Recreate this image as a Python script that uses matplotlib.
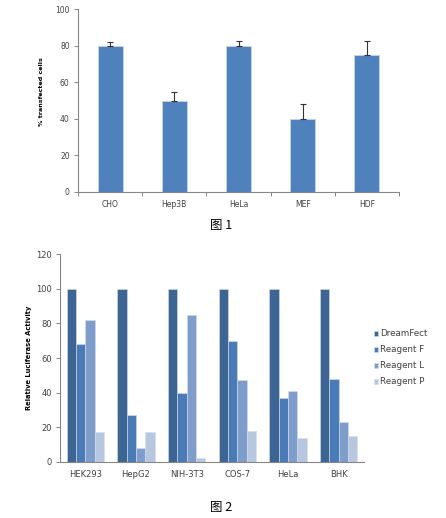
import numpy as np
import matplotlib
matplotlib.use("Agg")
import matplotlib.pyplot as plt

plt.rcParams['font.family'] = ['DejaVu Sans', 'Noto Sans CJK SC']

# figure 1 data
cells1 = ['CHO', 'Hep3B', 'HeLa', 'MEF', 'HDF']
pct_transfected = [80, 50, 80, 40, 75]
pct_err = [2, 5, 3, 8, 8]

# figure 2 data
cells2 = ['HEK293', 'HepG2', 'NIH-3T3', 'COS-7', 'HeLa', 'BHK']
reagents = ['DreamFect', 'Reagent F', 'Reagent L', 'Reagent P']
dreamfect = [100, 100, 100, 100, 100, 100]
reagent_f = [68, 27, 40, 70, 37, 48]
reagent_l = [82, 8, 85, 47, 41, 23]
reagent_p = [17, 17, 2, 18, 14, 15]

W, H = 446, 518
fig = plt.figure(figsize=(W / 100, H / 100), dpi=100)
fig.patch.set_facecolor('white')

axis_gray = '#868686'
text_gray = '#404040'


def style_axis(ax):
    for s in ['top', 'right']:
        ax.spines[s].set_visible(False)
    for s in ['left', 'bottom']:
        ax.spines[s].set_color(axis_gray)
        ax.spines[s].set_linewidth(0.8)
    ax.tick_params(axis='y', which='major', length=3, width=0.7, color=axis_gray,
                   labelcolor=text_gray, pad=3)
    ax.tick_params(axis='x', which='major', length=0, labelcolor=text_gray, pad=6)
    ax.tick_params(axis='x', which='minor', length=3, width=0.7, color=axis_gray)


# --- chart 1 ---
ax1 = fig.add_axes([78 / W, 1 - 192 / H, 321 / W, 182.5 / H])
x1 = np.arange(len(cells1))
ax1.bar(x1, pct_transfected, width=0.39, color='#4F81BD', edgecolor='#C6D4E8',
        linewidth=0.6, yerr=[[0] * len(pct_err), pct_err],
        error_kw=dict(ecolor='#333333', elinewidth=0.8, capsize=2.5, capthick=0.8))
ax1.set_xlim(-0.5, len(cells1) - 0.5)
ax1.set_ylim(0, 100)
ax1.set_yticks(range(0, 101, 20))
ax1.set_xticks(x1)
ax1.set_xticklabels(cells1, fontsize=5.5)
ax1.set_xticks(np.arange(-0.5, len(cells1)), minor=True)
ax1.tick_params(axis='y', labelsize=5.5)
ax1.set_ylabel('% transfected cells', fontsize=4.6, fontweight='bold')
ax1.yaxis.set_label_coords(-0.105, 0.55)
style_axis(ax1)

# --- chart 2 ---
ax2 = fig.add_axes([60 / W, 1 - 461.7 / H, 304 / W, 207.4 / H])
x2 = np.arange(len(cells2))
colors = ['#3C6594', '#4A7BB7', '#7E9DCA', '#B8C7E0']
series = [dreamfect, reagent_f, reagent_l, reagent_p]
bw = 0.183
for i, (vals, c, name) in enumerate(zip(series, colors, reagents)):
    ax2.bar(x2 + (i - 1.5) * bw, vals, width=bw, color=c, edgecolor='#D5DEEC',
            linewidth=0.4, label=name)
ax2.set_xlim(-0.5, len(cells2) - 0.5)
ax2.set_ylim(0, 120)
ax2.set_yticks(range(0, 121, 20))
ax2.set_xticks(x2)
ax2.set_xticklabels(cells2, fontsize=6)
ax2.tick_params(axis='y', labelsize=6)
ax2.set_ylabel('Relative Luciferase Activity', fontsize=4.9, fontweight='bold', labelpad=3)
style_axis(ax2)
ax2.tick_params(axis='x', which='major', length=0)

leg = ax2.legend(loc='center left', bbox_to_anchor=(1.02, 0.5), frameon=False,
                 fontsize=6.3, handlelength=0.55, handleheight=0.55, handletextpad=0.2,
                 labelspacing=0.8, borderaxespad=0)
for t in leg.get_texts():
    t.set_color(text_gray)

# captions
fig.text(221 / W, 1 - 226 / H, '图 1', ha='center', va='center', fontsize=9,
         family=['Noto Sans CJK SC', 'DejaVu Sans'])
fig.text(221 / W, 1 - 507 / H, '图 2', ha='center', va='center', fontsize=9,
         family=['Noto Sans CJK SC', 'DejaVu Sans'])

fig.savefig('out.png', dpi=100)
